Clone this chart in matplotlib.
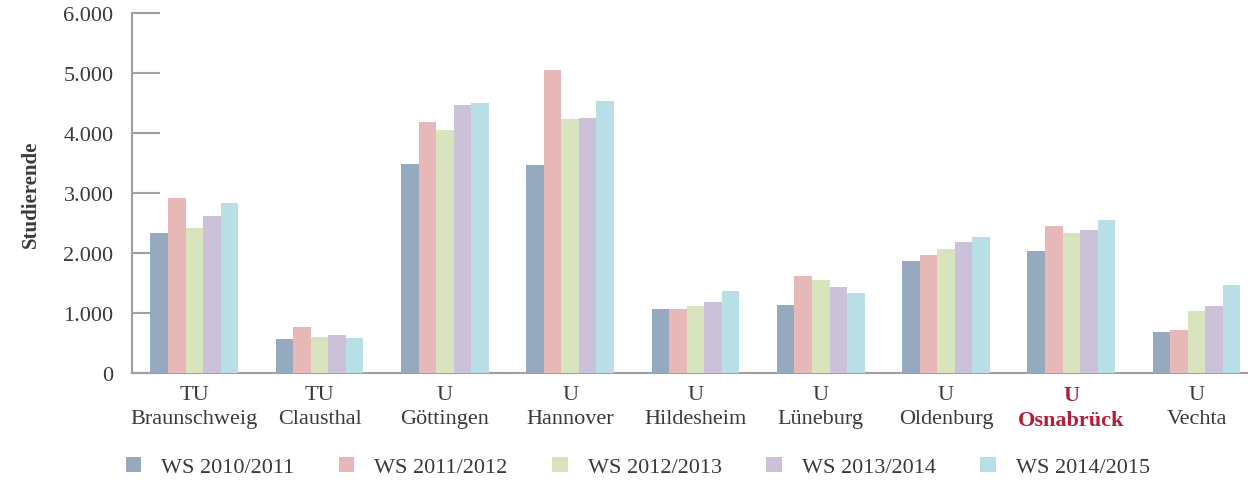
import matplotlib
matplotlib.use("Agg")
import matplotlib.pyplot as plt
from matplotlib.ticker import FuncFormatter
import numpy as np

plt.rcParams['font.family'] = ['Liberation Serif', 'DejaVu Serif']

unis = ["TU\nBraunschweig", "TU\nClausthal", "U\nGöttingen", "U\nHannover",
        "U\nHildesheim", "U\nLüneburg", "U\nOldenburg", "U\nOsnabrück", "U\nVechta"]
semesters = ["WS 2010/2011", "WS 2011/2012", "WS 2012/2013", "WS 2013/2014", "WS 2014/2015"]

ws_2010 = [2330, 570, 3480, 3470, 1070, 1135, 1865, 2035, 685]
ws_2011 = [2910, 760, 4180, 5050, 1070, 1615, 1965, 2450, 715]
ws_2012 = [2420, 595, 4050, 4235, 1115, 1550, 2065, 2335, 1035]
ws_2013 = [2610, 635, 4465, 4250, 1185, 1435, 2185, 2385, 1115]
ws_2014 = [2835, 580, 4500, 4535, 1365, 1335, 2265, 2550, 1465]
series = [ws_2010, ws_2011, ws_2012, ws_2013, ws_2014]

colors = ["#95aabe", "#e6b8b8", "#d8e4be", "#cbc1d9", "#b8dfe6"]
text_col = "#3a3a3a"
grey = "#a0a0a0"

fig = plt.figure(figsize=(12.48, 4.81), dpi=100)
ax = fig.add_axes([0.1055, 0.2225, 0.8945, 0.7485])

x = np.arange(len(unis))
w = 0.14
for i, (vals, c) in enumerate(zip(series, colors)):
    ax.bar(x + (i - 2) * w, vals, width=w, color=c, label=semesters[i], zorder=3)

ax.set_xlim(-0.5, 8.41)
ax.set_ylim(0, 6000)
ax.set_yticks(range(0, 6001, 1000))
ax.yaxis.set_major_formatter(FuncFormatter(lambda v, p: f"{int(v):,}".replace(",", ".")))

for s in ["top", "right"]:
    ax.spines[s].set_visible(False)
for s in ["left", "bottom"]:
    ax.spines[s].set_color(grey)
    ax.spines[s].set_linewidth(1.5)

ax.tick_params(axis="y", direction="in", length=20, width=1.5, color=grey,
               pad=13, labelsize=16, labelcolor=text_col)
ax.tick_params(axis="x", length=0, pad=9, labelsize=16, labelcolor=text_col)
ax.set_xticks(x)
ax.set_xticklabels(unis, linespacing=1.3)
lbl = ax.get_xticklabels()[7]
lbl.set_color("#b01f3a")
lbl.set_fontweight("bold")

ax.set_ylabel("Studierende", fontsize=15, fontweight="bold", color=text_col, labelpad=16)

fig.legend(loc="center", bbox_to_anchor=(0.511, 0.027), ncol=5, frameon=False,
           fontsize=16, handlelength=0.7, handleheight=0.7, handletextpad=0.9,
           columnspacing=2.0, labelcolor=text_col)

fig.savefig("out.png", dpi=100)
